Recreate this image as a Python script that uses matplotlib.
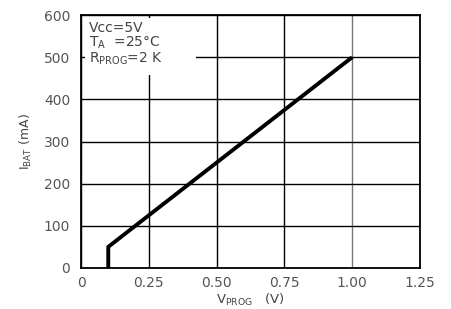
import matplotlib
matplotlib.use("Agg")
import matplotlib.pyplot as plt
from matplotlib.patches import Rectangle

# data
v_prog = [0.10, 0.10, 0.25, 0.50, 0.75, 1.00]
i_bat = [0, 50, 125, 250, 375, 500]

x_ticks = [0, 0.25, 0.50, 0.75, 1.00, 1.25]
x_labels = ["0", "0.25", "0.50", "0.75", "1.00", "1.25"]
y_ticks = [0, 100, 200, 300, 400, 500, 600]

fig = plt.figure(figsize=(4.51, 3.09), dpi=100)
ax = fig.add_axes([0.18, 0.133, 0.751, 0.818])

ax.plot(v_prog, i_bat, color="black", linewidth=2.8, solid_capstyle="butt", zorder=3)

ax.set_xlim(0, 1.25)
ax.set_ylim(0, 600)
ax.set_xticks(x_ticks)
ax.set_xticklabels(x_labels)
ax.set_yticks(y_ticks)
ax.grid(True, color="black", linewidth=1.0)
# the 1.00 line looks lighter in the original
ax.get_xgridlines()[4].set_color("#777777")
ax.tick_params(length=0, labelsize=10, colors="#555555")
ax.tick_params(axis="y", pad=8)
ax.tick_params(axis="x", pad=6)
for s in ax.spines.values():
    s.set_linewidth(1.3)
    s.set_color("black")
    s.set_zorder(6)

ax.set_xlabel(r"V$_{\mathregular{PROG}}$   (V)", fontsize=9.5, color="#444444", labelpad=1)
ax.set_ylabel(r"I$_{\mathregular{BAT}}$ (mA)", fontsize=9, color="#444444", labelpad=7)

# white patch behind the conditions text, kept inside the frame
ax.add_patch(Rectangle((0.01, 0.763), 0.33, 0.225, transform=ax.transAxes,
                       facecolor="white", edgecolor="none", zorder=1.8))
ax.text(0.022, 0.975,
        "Vcc=5V\n" + r"T$_{\mathregular{A}}$  =25°C" + "\n" + r"R$_{\mathregular{PROG}}$=2 K",
        transform=ax.transAxes, ha="left", va="top", fontsize=10, color="#444444",
        linespacing=0.95, zorder=4)

fig.savefig("out.png", dpi=100)
